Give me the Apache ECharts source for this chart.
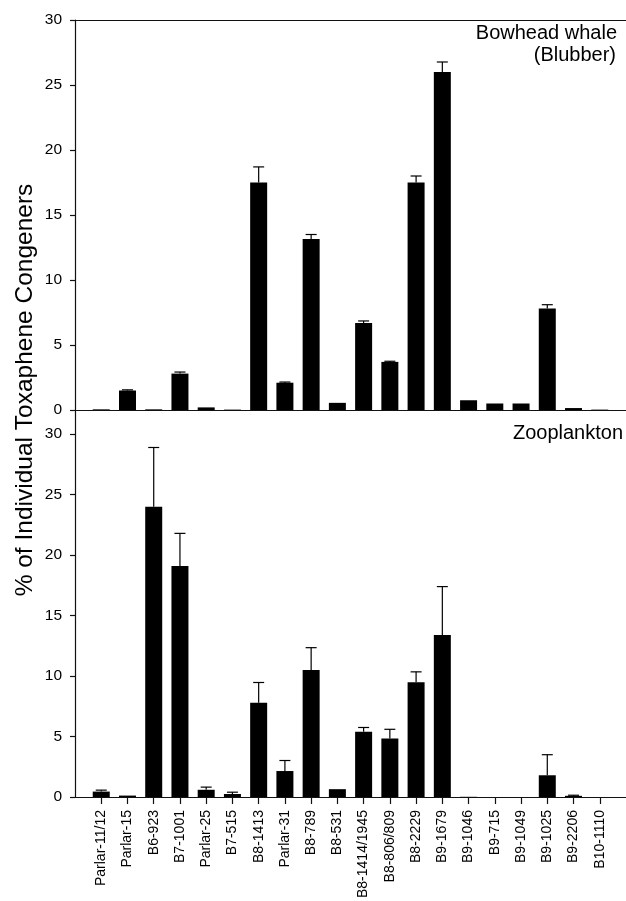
<!DOCTYPE html>
<html><head><meta charset="utf-8">
<script src="https://cdn.jsdelivr.net/npm/echarts@6/dist/echarts.min.js"></script>
<style>html,body{margin:0;padding:0;background:#fff}#c{width:626px;height:901px}</style>
</head><body><div id="c"></div>
<script>
const categories = ['Parlar-11/12','Parlar-15','B6-923','B7-1001','Parlar-25','B7-515','B8-1413','Parlar-31','B8-789','B8-531','B8-1414/1945','B8-806/809','B8-2229','B9-1679','B9-1046','B9-715','B9-1049','B9-1025','B9-2206','B10-1110'];
const whaleValues = [0.05,1.5,0.05,2.8,0.2,0.03,17.5,2.1,13.15,0.55,6.7,3.7,17.5,26.0,0.75,0.5,0.5,7.8,0.15,0.03];
const whaleErrors = [0,0.05,0,0.12,0,0,1.2,0.05,0.35,0,0.15,0.05,0.5,0.77,0,0,0,0.3,0,0];
const zooValues = [0.45,0.12,24.0,19.1,0.6,0.25,7.8,2.15,10.5,0.65,5.4,4.85,9.5,13.4,0.02,0,0,1.8,0.1,0];
const zooErrors = [0.12,0,4.9,2.7,0.22,0.15,1.67,0.87,1.85,0,0.35,0.75,0.85,4.0,0,0,0,1.7,0.05,0];
const yTickValues = [0,5,10,15,20,25,30];
const yAxisTitle = '% of Individual Toxaphene Congeners';
const panelTitles = ['Bowhead whale', '(Blubber)', 'Zooplankton'];

const FONT = '"Liberation Sans", Arial, sans-serif';
const chart = echarts.init(document.getElementById('c'), null, {renderer:'canvas'});
const idx = categories.map((_, i) => i);
const lineStyle = {color:'#111', width:1.2};

function errRender(params, api) {
  const x = api.value(0), v = api.value(1), e = api.value(2);
  if (!e) return null;
  const p0 = api.coord([x, v]);
  const p1 = api.coord([x, v + e]);
  return {type:'group', children:[
    {type:'line', shape:{x1:p0[0], y1:p0[1], x2:p1[0], y2:p1[1]}, style:{stroke:'#000', lineWidth:1.2}},
    {type:'line', shape:{x1:p1[0]-5.5, y1:p1[1], x2:p1[0]+5.5, y2:p1[1]}, style:{stroke:'#000', lineWidth:1.2}}
  ]};
}

const option = {
  animation:false,
  backgroundColor:'#fff',
  grid:[
    {left:75, top:20, width:555, height:390},
    {left:75, top:410, width:555, height:389.3}
  ],
  xAxis:[
    {type:'value', gridIndex:0, min:-1, max:20, interval:1,
     axisLine:{show:true, onZero:false, lineStyle}, axisTick:{show:false}, axisLabel:{show:false}, splitLine:{show:false}},
    {type:'value', gridIndex:1, min:-1, max:20, interval:1,
     axisLine:{show:true, onZero:false, lineStyle},
     axisTick:{show:true, length:7, customValues:idx, lineStyle},
     axisLabel:{show:true, customValues:idx, rotate:90, margin:13, fontSize:14, fontFamily:FONT, color:'#000',
       formatter:v => categories[Math.round(v)] ?? ''},
     splitLine:{show:false}},
    {type:'value', gridIndex:0, position:'top', min:-1, max:20,
     axisLine:{show:true, onZero:false, lineStyle}, axisTick:{show:false}, axisLabel:{show:false}, splitLine:{show:false}}
  ],
  yAxis:[
    {type:'value', gridIndex:0, min:0, max:30, interval:5,
     axisLine:{show:true, onZero:false, lineStyle},
     axisTick:{show:true, length:5, customValues:yTickValues, lineStyle},
     axisLabel:{customValues:yTickValues, margin:13, fontSize:15.5, fontFamily:FONT, color:'#000'},
     splitLine:{show:false}},
    {type:'value', gridIndex:1, min:0, max:32, interval:5,
     axisLine:{show:true, onZero:false, lineStyle},
     axisTick:{show:true, length:5, customValues:yTickValues, lineStyle},
     axisLabel:{customValues:yTickValues, margin:13, fontSize:15.5, fontFamily:FONT, color:'#000'},
     splitLine:{show:false}}
  ],
  series:[
    {type:'bar', xAxisIndex:0, yAxisIndex:0, barWidth:17, itemStyle:{color:'#000'},
     data: whaleValues.map((v, i) => [i, v])},
    {type:'custom', xAxisIndex:0, yAxisIndex:0, renderItem:errRender, z:5,
     data: whaleValues.map((v, i) => [i, v, whaleErrors[i]])},
    {type:'bar', xAxisIndex:1, yAxisIndex:1, barWidth:17, itemStyle:{color:'#000'},
     data: zooValues.map((v, i) => [i, v])},
    {type:'custom', xAxisIndex:1, yAxisIndex:1, renderItem:errRender, z:5,
     data: zooValues.map((v, i) => [i, v, zooErrors[i]])}
  ],
  graphic:[
    {type:'text', right:9, top:23, style:{text:panelTitles[0], fontSize:20, fontFamily:FONT, fill:'#000'}},
    {type:'text', right:10, top:45, style:{text:panelTitles[1], fontSize:20, fontFamily:FONT, fill:'#000'}},
    {type:'text', right:3, top:423, style:{text:panelTitles[2], fontSize:20, fontFamily:FONT, fill:'#000'}},
    {type:'text', x:25, y:390, rotation:Math.PI/2, style:{text:yAxisTitle, align:'center', verticalAlign:'middle', fontSize:24.5, fontFamily:FONT, fill:'#000'}}
  ]
};
chart.setOption(option);
</script>
</body></html>
